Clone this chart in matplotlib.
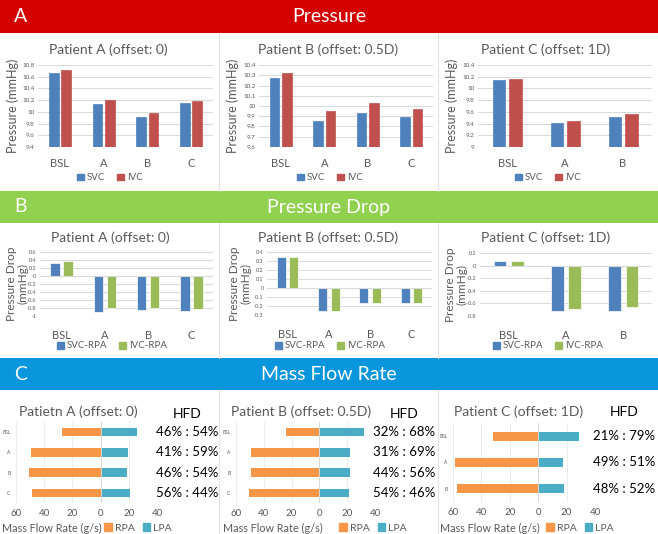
import matplotlib
matplotlib.use('Agg')
import matplotlib.pyplot as plt
from matplotlib.patches import Rectangle, Patch
from matplotlib.lines import Line2D
from matplotlib.transforms import blended_transform_factory
from matplotlib.ticker import FuncFormatter, FixedLocator
import numpy as np

plt.rcParams['font.family'] = ['Lato', 'DejaVu Sans']
plt.rcParams['axes.unicode_minus'] = False

# ---------------- data ----------------
cats4 = ['BSL', 'A', 'B', 'C']
cats3 = ['BSL', 'A', 'B']

press_titles = ['Patient A (offset: 0)', 'Patient B (offset: 0.5D)', 'Patient C (offset: 1D)']
pA_svc = [10.67, 10.13, 9.92, 10.15]
pA_ivc = [10.71, 10.21, 9.98, 10.19]
pB_svc = [10.27, 9.85, 9.93, 9.89]
pB_ivc = [10.32, 9.95, 10.03, 9.97]
pC_svc = [10.15, 9.41, 9.51]
pC_ivc = [10.16, 9.45, 9.57]

dA_svc = [0.33, -0.89, -0.85, -0.87]
dA_ivc = [0.37, -0.80, -0.79, -0.82]
dB_svc = [0.35, -0.25, -0.17, -0.17]
dB_ivc = [0.35, -0.25, -0.17, -0.17]
dC_svc = [0.07, -0.72, -0.72]
dC_ivc = [0.08, -0.69, -0.66]

mf_titles = ['Patietn A (offset: 0)', 'Patient B (offset: 0.5D)', 'Patient C (offset: 1D)']
mA_rpa = [27.6, 49.3, 50.5, 49.0]
mA_lpa = [26.0, 19.5, 18.6, 20.5]
mB_rpa = [24.3, 49.4, 49.4, 50.6]
mB_lpa = [32.3, 22.2, 22.2, 21.2]
mC_rpa = [31.8, 58.4, 56.9]
mC_lpa = [28.9, 17.2, 18.4]
hfdA = ['46% : 54%', '41% : 59%', '46% : 54%', '56% : 44%']
hfdB = ['32% : 68%', '31% : 69%', '44% : 56%', '54% : 46%']
hfdC = ['21% : 79%', '49% : 51%', '48% : 52%']

# ---------------- style ----------------
C_SVC = '#4F81BD'
C_IVC = '#C0504D'
C_GRN = '#9BBB59'
C_RPA = '#F79646'
C_LPA = '#4BACC6'
GRID = '#D9D9D9'
TXT = '#595959'

W, H = 658, 534
fig = plt.figure(figsize=(W / 100, H / 100), dpi=100)
fig.patch.set_facecolor('white')


def fx(x):
    return x / W


def fy(y):
    return 1 - y / H


def px_axes(x0, y0, x1, y1):
    return fig.add_axes([x0 / W, 1 - y1 / H, (x1 - x0) / W, (y1 - y0) / H])


def header(y0, y1, color, letter, title):
    fig.patches.append(Rectangle((0, fy(y1)), 1, (y1 - y0) / H, transform=fig.transFigure,
                                 facecolor=color, edgecolor='none', zorder=0))
    fig.text(fx(14), fy((y0 + y1) / 2), letter, color='white', fontsize=14,
             ha='left', va='center')
    fig.text(0.5, fy((y0 + y1) / 2), title, color='white', fontsize=14,
             ha='center', va='center')


def vsep(y0, y1):
    for x in (219, 438):
        fig.lines.append(Line2D([fx(x), fx(x)], [fy(y0), fy(y1)], transform=fig.transFigure,
                                color='#E3E3E3', lw=0.8))


header(0, 33, '#D40000', 'A', 'Pressure')
header(191, 223, '#92D050', 'B', 'Pressure Drop')
header(358, 390, '#0A96DC', 'C', 'Mass Flow Rate')
vsep(33, 191)
vsep(223, 358)
vsep(390, 534)

fmt_g = FuncFormatter(lambda v, p: format(round(v, 2), 'g'))


def style_vbar(ax, ylim, ystep, ysize):
    ax.set_ylim(*ylim)
    ticks = np.round(np.arange(ylim[0], ylim[1] + ystep / 2, ystep), 3)
    ax.yaxis.set_major_locator(FixedLocator(ticks))
    ax.yaxis.set_major_formatter(fmt_g)
    ax.grid(axis='y', color=GRID, lw=0.7)
    ax.set_axisbelow(True)
    for s in ax.spines.values():
        s.set_visible(False)
    ax.tick_params(axis='y', length=0, labelsize=ysize, labelcolor=TXT, pad=2.5)
    ax.tick_params(axis='x', length=0, labelsize=8, labelcolor=TXT)


def vbar_chart(box, cats, s1, s2, c1, c2, names, ylim, ystep, title, title_xy,
               ylabel, ylabel_x, legend_xy, off, width, xpad, edge=None,
               ysize=4.5, ylsize=8.5):
    ax = px_axes(*box)
    x = np.arange(len(cats))
    ax.bar(x - off, s1, width, color=c1, edgecolor=edge or c1, lw=0.5, label=names[0])
    ax.bar(x + off, s2, width, color=c2, edgecolor=edge or c2, lw=0.5, label=names[1])
    style_vbar(ax, ylim, ystep, ysize)
    ax.set_xlim(-0.5, len(cats) - 0.5)
    ax.set_xticks(x)
    ax.set_xticklabels(cats)
    ax.tick_params(axis='x', pad=xpad)
    if ylim[0] < 0:
        ax.axhline(0, color=GRID, lw=0.8)
    fig.text(fx(title_xy[0]), fy(title_xy[1]), title, fontsize=10, color=TXT,
             ha='center', va='center')
    fig.text(fx(ylabel_x), fy((box[1] + box[3]) / 2), ylabel, fontsize=ylsize, color=TXT,
             rotation=90, ha='center', va='center', linespacing=1.0)
    h = [Patch(color=c1), Patch(color=c2)]
    fig.legend(h, names, loc='center', bbox_to_anchor=(fx(legend_xy[0]), fy(legend_xy[1])),
               bbox_transform=fig.transFigure, ncol=2, frameon=False, fontsize=7,
               handlelength=0.7, handleheight=0.7, handletextpad=0.3, columnspacing=1.2,
               labelcolor=TXT, borderpad=0)
    return ax


# ---- Panel A: Pressure ----
vbar_chart((38, 65, 213, 147), cats4, pA_svc, pA_ivc, C_SVC, C_IVC, ['SVC', 'IVC'],
           (9.4, 10.8), 0.2, press_titles[0], (108, 50), 'Pressure (mmHg)', 13, (110, 178),
           0.14, 0.22, 8, ylsize=9)
vbar_chart((259, 65, 433, 147), cats4, pB_svc, pB_ivc, C_SVC, C_IVC, ['SVC', 'IVC'],
           (9.6, 10.4), 0.1, press_titles[1], (328, 50), 'Pressure (mmHg)', 233, (330, 178),
           0.14, 0.22, 8, ylsize=9)
vbar_chart((478, 65, 652, 147), cats3, pC_svc, pC_ivc, C_SVC, C_IVC, ['SVC', 'IVC'],
           (9.0, 10.4), 0.2, press_titles[2], (546, 50), 'Pressure (mmHg)', 452, (548, 178),
           0.14, 0.22, 8, ylsize=9)

# ---- Panel B: Pressure Drop ----
vbar_chart((40, 252, 213, 316), cats4, dA_svc, dA_ivc, C_SVC, C_GRN, ['SVC-RPA', 'IVC-RPA'],
           (-1.0, 0.6), 0.2, press_titles[0], (110, 238), 'Pressure Drop\n(mmHg)', 17, (112, 346),
           0.15, 0.22, 10, edge='white', ysize=4)
vbar_chart((267, 252, 432, 315), cats4, dB_svc, dB_ivc, C_SVC, C_GRN, ['SVC-RPA', 'IVC-RPA'],
           (-0.3, 0.4), 0.1, press_titles[1], (328, 238), 'Pressure Drop\n(mmHg)', 240, (330, 346),
           0.15, 0.22, 10, edge='white', ysize=4)
vbar_chart((480, 253, 652, 316), cats3, dC_svc, dC_ivc, C_SVC, C_GRN, ['SVC-RPA', 'IVC-RPA'],
           (-0.8, 0.2), 0.2, press_titles[2], (546, 238), 'Pressure Drop\n(mmHg)', 456, (548, 346),
           0.15, 0.22, 10, edge='white', ysize=4)


# ---- Panel C: Mass flow ----
def mf_chart(box, cats, rpa, lpa, hfd, title, title_xy, hfd_x, hfd_y, height, leg):
    ax = px_axes(*box)
    y = np.arange(len(cats))
    ax.barh(y, [-v for v in rpa], height, color=C_RPA)
    ax.barh(y, lpa, height, color=C_LPA)
    ax.set_xlim(-60, 40)
    ax.set_ylim(len(cats) - 0.5, -0.5)
    ax.set_xticks([-60, -40, -20, 0, 20, 40])
    ax.xaxis.set_major_formatter(FuncFormatter(lambda v, p: f'{abs(int(round(v)))}'))
    ax.set_yticks(y)
    ax.set_yticklabels(cats)
    ax.grid(axis='x', color='#EDEDED', lw=0.7)
    ax.set_axisbelow(True)
    for s in ax.spines.values():
        s.set_visible(False)
    ax.axvline(0, color=GRID, lw=0.7)
    ax.tick_params(axis='y', length=0, labelsize=3.5, labelcolor=TXT, pad=4)
    ax.tick_params(axis='x', length=0, labelsize=7, labelcolor=TXT, pad=4)
    fig.text(fx(title_xy[0]), fy(title_xy[1]), title, fontsize=10, color=TXT,
             ha='center', va='center')
    fig.text(fx(hfd_x), fy(hfd_y), 'HFD', fontsize=10, color='black', ha='center', va='center')
    tr = blended_transform_factory(fig.transFigure, ax.transData)
    for yi, s in zip(y, hfd):
        ax.text(fx(hfd_x), yi, s, transform=tr, fontsize=9.5, color='black',
                ha='center', va='center')
    fig.text(fx(leg[0]), fy(528), 'Mass Flow Rate (g/s)', fontsize=7.8, color=TXT,
             ha='left', va='center')
    h = [Patch(color=C_RPA), Patch(color=C_LPA)]
    fig.legend(h, ['RPA', 'LPA'], loc='center left', bbox_to_anchor=(fx(leg[1]), fy(528)),
               bbox_transform=fig.transFigure, ncol=2, frameon=False, fontsize=7.5,
               handlelength=0.7, handleheight=0.7, handletextpad=0.3, columnspacing=0.8,
               labelcolor=TXT, borderpad=0)
    return ax


mf_chart((16, 422, 157, 503), cats4, mA_rpa, mA_lpa, hfdA, mf_titles[0], (78, 412),
         187, 414, 0.43, (2, 99))
mf_chart((236, 422, 375, 503), cats4, mB_rpa, mB_lpa, hfdB, mf_titles[1], (301, 412),
         404, 414, 0.43, (223, 334))
mf_chart((453, 423, 595, 502), cats3, mC_rpa, mC_lpa, hfdC, mf_titles[2], (519, 412),
         624, 412, 0.33, (440, 541))

fig.savefig('out.png', dpi=100, facecolor='white')
